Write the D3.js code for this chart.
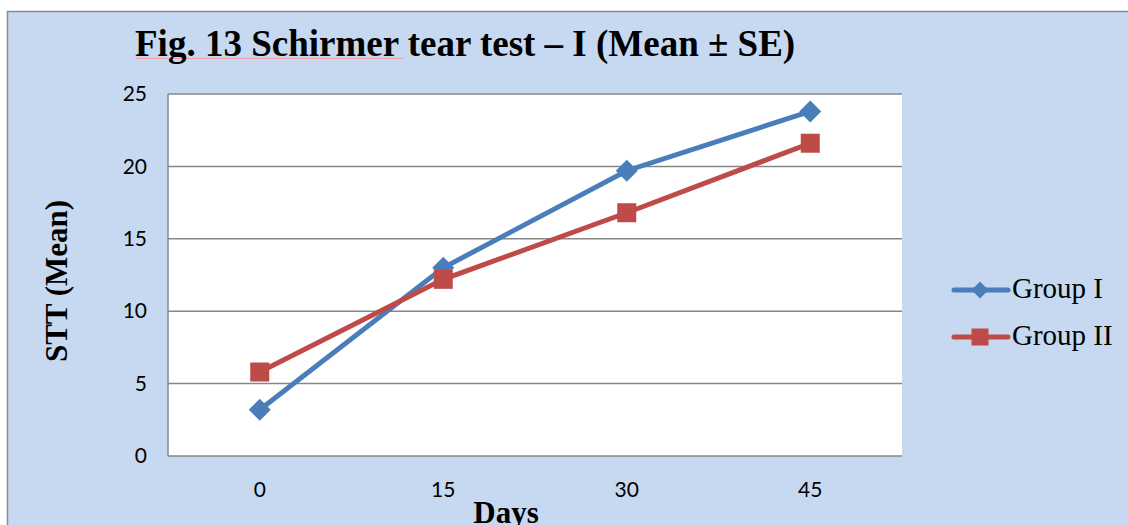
<!DOCTYPE html>
<html>
<head>
<meta charset="utf-8">
<script src="https://cdn.jsdelivr.net/npm/d3@7"></script>
<style>
  body { margin: 0; background: #fff; }
  svg { display: block; }
</style>
</head>
<body>
<svg id="chart" width="1128" height="525"></svg>
<script>
var days = ["0", "15", "30", "45"];
var groupI = [3.2, 13.0, 19.7, 23.8];
var groupII = [5.8, 12.2, 16.8, 21.6];
var yTicks = [0, 5, 10, 15, 20, 25];

var series = [
    {name: "Group I", values: groupI, color: "#4a7ebb", shape: "diamond"},
    {name: "Group II", values: groupII, color: "#be4b48", shape: "square"}];

var svg = d3.select('#chart');

// chart background box
svg.append('rect')
    .attr('x', 7.5).attr('y', 11.5)
    .attr('width', 1130).attr('height', 530)
    .attr('fill', '#c6d9f1')
    .attr('stroke', '#8c8c8c').attr('stroke-width', 1.5);

var plot = {left: 168, top: 94, right: 902, bottom: 456};

var x = d3.scaleBand()
    .domain(days)
    .range([plot.left, plot.right]);

var y = d3.scaleLinear()
    .domain([0, 25])
    .range([plot.bottom, plot.top]);

svg.append('rect')
    .attr('x', plot.left).attr('y', plot.top)
    .attr('width', plot.right - plot.left).attr('height', plot.bottom - plot.top)
    .attr('fill', '#fff');

// gridlines
svg.append('g')
    .selectAll('line')
    .data(yTicks)
    .enter()
    .append('line')
    .attr('x1', plot.left).attr('x2', plot.right)
    .attr('y1', d => y(d)).attr('y2', d => y(d))
    .attr('stroke', '#878787').attr('stroke-width', 1.5);

svg.append('line')
    .attr('x1', plot.left).attr('x2', plot.left)
    .attr('y1', plot.top).attr('y2', plot.bottom)
    .attr('stroke', '#878787').attr('stroke-width', 1.5);

// y axis labels
var yAxis = d3.axisLeft(y).tickValues(yTicks).tickSize(0).tickPadding(21);
svg.append('g')
    .attr('transform', `translate(${plot.left},0)`)
    .call(yAxis)
    .call(g => g.select('.domain').remove())
    .selectAll('text')
    .attr('font-family', 'Lato, "Open Sans", sans-serif')
    .attr('font-size', 21)
    .attr('fill', '#000');

// x axis labels
var xAxis = d3.axisBottom(x).tickSize(0).tickPadding(26);
svg.append('g')
    .attr('transform', `translate(0,${plot.bottom})`)
    .call(xAxis)
    .call(g => g.select('.domain').remove())
    .selectAll('text')
    .attr('font-family', 'Lato, "Open Sans", sans-serif')
    .attr('font-size', 21)
    .attr('fill', '#000');

var line = d3.line()
    .x((d, i) => x(days[i]) + x.bandwidth() / 2)
    .y(d => y(d));

function marker(sel, shape, color) {
    if (shape === "diamond") {
        sel.append('path')
            .attr('d', 'M0,-11L11,0L0,11L-11,0Z')
            .attr('fill', color);
    } else {
        sel.append('rect')
            .attr('x', -9.5).attr('y', -9.5)
            .attr('width', 19).attr('height', 19)
            .attr('fill', color);
    }
}

series.forEach(s => {
    svg.append('path')
        .datum(s.values)
        .attr('d', line)
        .attr('fill', 'none')
        .attr('stroke', s.color)
        .attr('stroke-width', 5);
    svg.append('g')
        .selectAll('g')
        .data(s.values)
        .enter()
        .append('g')
        .attr('transform', (d, i) => `translate(${x(days[i]) + x.bandwidth() / 2},${y(d)})`)
        .each(function() { marker(d3.select(this), s.shape, s.color); });
});

// legend
var legend = svg.append('g')
    .selectAll('g')
    .data(series)
    .enter()
    .append('g')
    .attr('transform', (d, i) => `translate(952,${290 + i * 47})`);

legend.append('line')
    .attr('x1', 2).attr('x2', 56)
    .attr('stroke', d => d.color)
    .attr('stroke-width', 5)
    .attr('stroke-linecap', 'round');

legend.each(function(d) {
    var g = d3.select(this).append('g').attr('transform', 'translate(28,0)');
    if (d.shape === "diamond") {
        g.append('path').attr('d', 'M0,-8.5L8.5,0L0,8.5L-8.5,0Z').attr('fill', d.color);
    } else {
        g.append('rect').attr('x', -8.5).attr('y', -8.5).attr('width', 17).attr('height', 17).attr('fill', d.color);
    }
});

legend.append('text')
    .attr('x', 60).attr('y', 8)
    .attr('font-family', '"Liberation Serif", "Times New Roman", serif')
    .attr('font-size', 29)
    .text(d => d.name);

// spell-check underline under the start of the title
svg.append('line')
    .attr('x1', 135).attr('x2', 403)
    .attr('y1', 58.5).attr('y2', 58.5)
    .attr('stroke', '#f2a0a8').attr('stroke-width', 1);

// title
svg.append('text')
    .attr('x', 135).attr('y', 56)
    .attr('font-family', '"Liberation Serif", "Times New Roman", serif')
    .attr('font-weight', 'bold')
    .attr('font-size', 37)
    .text('Fig. 13 Schirmer tear test \u2013 I (Mean \u00b1 SE)');

// axis titles
svg.append('text')
    .attr('transform', 'translate(67,281) rotate(-90)')
    .attr('text-anchor', 'middle')
    .attr('font-family', '"Liberation Serif", "Times New Roman", serif')
    .attr('font-weight', 'bold')
    .attr('font-size', 31)
    .text('STT (Mean)');

svg.append('text')
    .attr('x', 506).attr('y', 523)
    .attr('text-anchor', 'middle')
    .attr('font-family', '"Liberation Serif", "Times New Roman", serif')
    .attr('font-weight', 'bold')
    .attr('font-size', 31)
    .text('Days');
</script>
</body>
</html>
